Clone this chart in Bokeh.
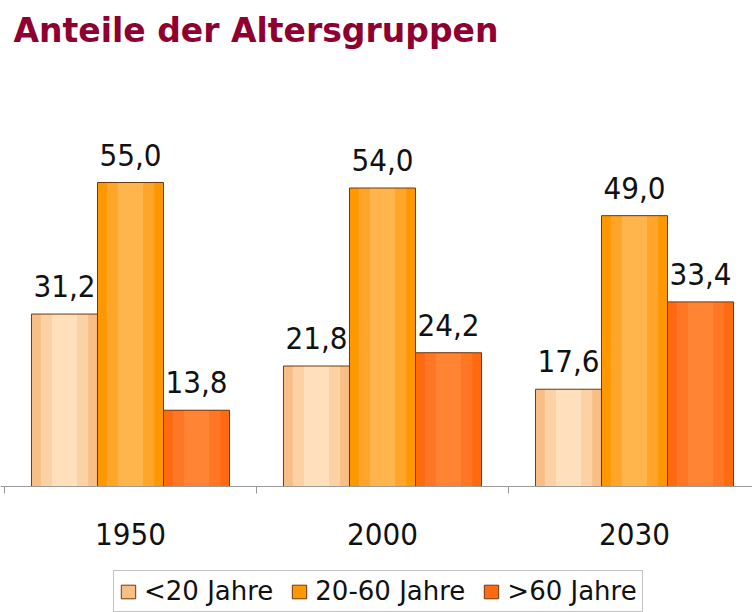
import numpy as np
from bokeh.plotting import figure
from bokeh.models import (Range1d, FixedTicker, Legend, LegendItem, ColumnDataSource)
from bokeh.core.properties import value
from bokeh.embed import file_html
from bokeh.resources import INLINE

years = ["1950", "2000", "2030"]
series = ["<20 Jahre", "20-60 Jahre", ">60 Jahre"]
under20 = [31.2, 21.8, 17.6]
mid20_60 = [55.0, 54.0, 49.0]
over60 = [13.8, 24.2, 33.4]
values = [under20, mid20_60, over60]

# gradient-like shades: outer, middle, inner
shades = [
    ["#F7BE86", "#FCD2A4", "#FFDFBC"],
    ["#FF9800", "#FFA62A", "#FFB54C"],
    ["#FF6A10", "#FF7624", "#FF8434"],
]
edge = "#6B3A10"

AXFONT = "DejaVu Sans Condensed"

bar_w = 0.262
offsets = [-bar_w, 0.0, bar_w]
x0 = -0.5 - 4 / 252
px_per_unit = 304 / 55.0

p = figure(frame_width=752, frame_height=560, output_backend="svg", toolbar_location=None,
           x_range=Range1d(x0, x0 + 752 / 252),
           y_range=Range1d(-126 / px_per_unit, 434 / px_per_unit),
           min_border_left=0, min_border_right=0, min_border_top=52, min_border_bottom=0)
p.outline_line_color = None
p.grid.visible = False
p.yaxis.visible = False
p.background_fill_color = "white"
p.border_fill_color = "white"

p.title.text = "Anteile der Altersgruppen"
p.title.text_font = "DejaVu Sans"
p.title.text_font_style = "bold"
p.title.text_font_size = "33px"
p.title.text_color = "#8E0030"
p.title.offset = 13
p.title.standoff = 5

x_idx = np.arange(len(years))
items = []
for s, (name, vals) in enumerate(zip(series, values)):
    xs = x_idx + offsets[s]
    src = ColumnDataSource(dict(x=xs, top=vals,
                                lbl=[f"{v:.1f}".replace(".", ",") for v in vals]))
    base = p.vbar(x="x", top="top", width=bar_w, bottom=0, source=src,
                  fill_color=shades[s][0], line_color=None)
    p.vbar(x="x", top="top", width=bar_w * 0.72, bottom=0, source=src,
           fill_color=shades[s][1], line_color=None)
    p.vbar(x="x", top="top", width=bar_w * 0.38, bottom=0, source=src,
           fill_color=shades[s][2], line_color=None)
    outline = p.vbar(x="x", top="top", width=bar_w, bottom=0, source=src,
                     fill_color=None, line_color=edge, line_width=1)
    p.text(x="x", y="top", text="lbl", source=src, text_align="center",
           text_baseline="alphabetic", y_offset=-28,
           text_font=value(AXFONT), text_font_size="31px", text_color="#111111")
    items.append(LegendItem(label=name, renderers=[base, outline]))

ax = p.xaxis[0]
ax.axis_label = None
ax.fixed_location = 0
ax.ticker = FixedTicker(ticks=list(x_idx), minor_ticks=[-0.5, 0.5, 1.5, 2.5])
ax.major_label_overrides = {int(i): y for i, y in zip(x_idx, years)}
ax.major_tick_out = 0
ax.major_tick_in = 0
ax.minor_tick_out = 7
ax.minor_tick_in = 0
ax.minor_tick_line_color = "#9A9A9A"
ax.axis_line_color = "#9A9A9A"
ax.major_label_text_font = AXFONT
ax.major_label_text_font_size = "31px"
ax.major_label_text_color = "#111111"
ax.major_label_standoff = 29

legend = Legend(items=items, orientation="horizontal", location=(113, 0),
                label_text_font="DejaVu Sans", label_text_font_size="26px",
                label_text_color="#111111",
                glyph_width=18, glyph_height=17, label_standoff=7, spacing=17,
                padding=5, margin=0, border_line_color="#888888",
                border_line_width=1, background_fill_color="white")
p.add_layout(legend, "center")

open("out.html", "w").write(file_html(p, INLINE))
